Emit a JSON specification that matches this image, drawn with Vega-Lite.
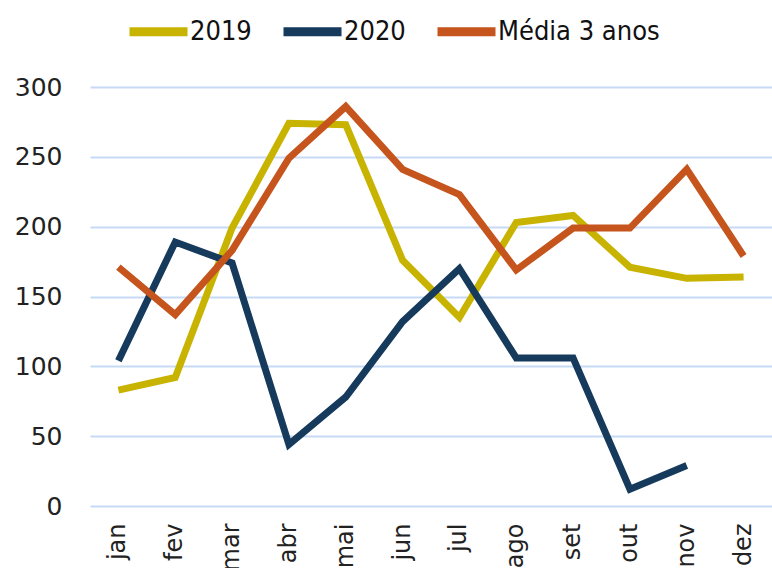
{
  "$schema": "https://vega.github.io/schema/vega-lite/v6.json",
  "autosize": {"type": "none"},
  "width": 682,
  "height": 419,
  "padding": {"left": 90, "top": 87, "right": 0, "bottom": 62},
  "background": "white",
  "config": {
    "font": "DejaVu Sans",
    "view": {"stroke": null}
  },
  "data": {
    "values": [
      {"mes": "jan", "serie": "2019", "valor": 83},
      {"mes": "fev", "serie": "2019", "valor": 92},
      {"mes": "mar", "serie": "2019", "valor": 199},
      {"mes": "abr", "serie": "2019", "valor": 274},
      {"mes": "mai", "serie": "2019", "valor": 273},
      {"mes": "jun", "serie": "2019", "valor": 176},
      {"mes": "jul", "serie": "2019", "valor": 135},
      {"mes": "ago", "serie": "2019", "valor": 203},
      {"mes": "set", "serie": "2019", "valor": 208},
      {"mes": "out", "serie": "2019", "valor": 171},
      {"mes": "nov", "serie": "2019", "valor": 163},
      {"mes": "dez", "serie": "2019", "valor": 164},
      {"mes": "jan", "serie": "2020", "valor": 104},
      {"mes": "fev", "serie": "2020", "valor": 189},
      {"mes": "mar", "serie": "2020", "valor": 174},
      {"mes": "abr", "serie": "2020", "valor": 44},
      {"mes": "mai", "serie": "2020", "valor": 78},
      {"mes": "jun", "serie": "2020", "valor": 132},
      {"mes": "jul", "serie": "2020", "valor": 170},
      {"mes": "ago", "serie": "2020", "valor": 106},
      {"mes": "set", "serie": "2020", "valor": 106},
      {"mes": "out", "serie": "2020", "valor": 12},
      {"mes": "nov", "serie": "2020", "valor": 29},
      {"mes": "jan", "serie": "Média 3 anos", "valor": 171},
      {"mes": "fev", "serie": "Média 3 anos", "valor": 137},
      {"mes": "mar", "serie": "Média 3 anos", "valor": 183},
      {"mes": "abr", "serie": "Média 3 anos", "valor": 249},
      {"mes": "mai", "serie": "Média 3 anos", "valor": 286},
      {"mes": "jun", "serie": "Média 3 anos", "valor": 241},
      {"mes": "jul", "serie": "Média 3 anos", "valor": 223},
      {"mes": "ago", "serie": "Média 3 anos", "valor": 169},
      {"mes": "set", "serie": "Média 3 anos", "valor": 199},
      {"mes": "out", "serie": "Média 3 anos", "valor": 199},
      {"mes": "nov", "serie": "Média 3 anos", "valor": 241},
      {"mes": "dez", "serie": "Média 3 anos", "valor": 179}
    ]
  },
  "mark": {"type": "line", "strokeWidth": 7, "strokeJoin": "miter"},
  "encoding": {
    "x": {
      "field": "mes",
      "type": "ordinal",
      "sort": ["jan","fev","mar","abr","mai","jun","jul","ago","set","out","nov","dez"],
      "scale": {"type": "band", "paddingInner": 0, "paddingOuter": 0},
      "axis": {
        "title": null,
        "labelAngle": -90,
        "labelAlign": "right",
        "labelBaseline": "middle",
        "labelFontSize": 24,
        "labelColor": "#222222",
        "labelPadding": 17,
        "ticks": false,
        "domain": false,
        "grid": false
      }
    },
    "y": {
      "field": "valor",
      "type": "quantitative",
      "scale": {"domain": [0, 300], "nice": false},
      "axis": {
        "title": null,
        "values": [0, 50, 100, 150, 200, 250, 300],
        "labelFontSize": 25,
        "labelColor": "#222222",
        "labelPadding": 28,
        "ticks": false,
        "domain": false,
        "gridColor": "#C6DAF5",
        "gridWidth": 2
      }
    },
    "color": {
      "field": "serie",
      "type": "nominal",
      "scale": {
        "domain": ["2019", "2020", "Média 3 anos"],
        "range": ["#C8B400", "#163A5C", "#C5541D"]
      },
      "legend": {
        "title": null,
        "orient": "none",
        "direction": "horizontal",
        "legendX": 35,
        "legendY": -89,
        "symbolType": "stroke",
        "symbolSize": 3364,
        "symbolStrokeWidth": 9,
        "labelFont": "DejaVu Sans Condensed",
        "labelFontSize": 27,
        "labelColor": "#111111",
        "labelOffset": -2,
        "labelLimit": 400,
        "columnPadding": 13
      }
    }
  }
}
